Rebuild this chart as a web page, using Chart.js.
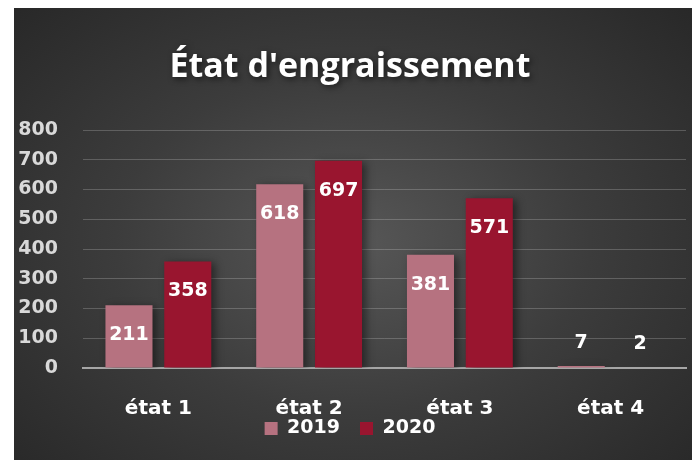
<!DOCTYPE html>
<html>
<head>
<meta charset="utf-8">
<script src="https://cdn.jsdelivr.net/npm/chart.js@4.4.1/dist/chart.umd.min.js"></script>
<style>
  html, body { margin: 0; padding: 0; background: #fff; }
  #panel {
    position: absolute; left: 14px; top: 8px; width: 678px; height: 452px;
    background: radial-gradient(ellipse 70% 75% at 50% 52%, #575757 0%, #3c3c3c 50%, #282828 100%);
  }
</style>
</head>
<body>
<div id="panel"><canvas id="chart" width="678" height="452"></canvas></div>
<script>
// Data
const categories = ['état 1', 'état 2', 'état 3', 'état 4'];
const values2019 = [211, 618, 381, 7];
const values2020 = [358, 697, 571, 2];
const yTicks = [0, 100, 200, 300, 400, 500, 600, 700, 800];
const titleText = "État d'engraissement";

const numFont = 'DejaVu Sans';

// title with soft shadow
const titlePlugin = {
  id: 'titleDraw',
  afterDraw(chart) {
    const c = chart.ctx;
    c.save();
    c.font = 'bold 34px "Open Sans"';
    c.fillStyle = '#ffffff';
    c.textAlign = 'center';
    c.textBaseline = 'middle';
    c.shadowColor = 'rgba(0,0,0,0.6)';
    c.shadowBlur = 6;
    c.shadowOffsetX = 2;
    c.shadowOffsetY = 2;
    c.fillText(titleText, 336, 59);
    c.restore();
  }
};

// legend sits tight under the category labels
const legendShift = {
  id: 'legendShift',
  afterLayout(chart) {
    const lg = chart.legend;
    if (lg) { lg.top -= 22; lg.bottom -= 22; }
  }
};

// bar shadow + value labels
const barLabels = {
  id: 'barLabels',
  beforeDatasetsDraw(chart) {
    const c = chart.ctx;
    c.save();
    c.shadowColor = 'rgba(0,0,0,0.45)';
    c.shadowBlur = 8;
    c.shadowOffsetX = 4;
    c.shadowOffsetY = 2;
  },
  afterDatasetsDraw(chart) {
    const c = chart.ctx;
    c.restore();
    c.save();
    c.font = 'bold 19px "' + numFont + '"';
    c.fillStyle = '#ffffff';
    c.textAlign = 'center';
    c.textBaseline = 'middle';
    chart.data.datasets.forEach((ds, i) => {
      chart.getDatasetMeta(i).data.forEach((bar, j) => {
        const h = bar.base - bar.y;
        const y = h > 40 ? bar.y + 30 : bar.y - 23;
        c.fillText(String(ds.data[j]), bar.x, y);
      });
    });
    c.restore();
  }
};

const ctx = document.getElementById('chart').getContext('2d');
const chart = new Chart(ctx, {
  type: 'bar',
  data: {
    labels: categories,
    datasets: [
      { label: '2019', data: values2019, backgroundColor: '#b67280', categoryPercentage: 0.78, barPercentage: 0.8 },
      { label: '2020', data: values2020, backgroundColor: '#99152f', categoryPercentage: 0.78, barPercentage: 0.8 }
    ]
  },
  options: {
    responsive: false,
    animation: false,
    layout: { padding: { top: 122, right: 6, bottom: 0, left: 0 } },
    plugins: {
      title: { display: false },
      tooltip: { enabled: false },
      legend: {
        position: 'bottom',
        maxHeight: 39,
        labels: {
          boxWidth: 13, boxHeight: 13, padding: 20,
          color: '#ffffff',
          font: { family: numFont, size: 19, weight: 'bold' }
        }
      }
    },
    scales: {
      x: {
        grid: { display: false, drawTicks: false },
        border: { display: true, color: '#a6a6a6', width: 2 },
        ticks: { color: '#ffffff', padding: 29, font: { family: numFont, size: 20, weight: 'bold' } },
        afterFit(scale) { scale.height = 53; }
      },
      y: {
        min: 0, max: 800,
        afterBuildTicks(scale) { scale.ticks = yTicks.map(v => ({ value: v })); },
        grid: { color: 'rgba(255,255,255,0.2)', lineWidth: 1, drawTicks: false },
        border: { display: false },
        ticks: { color: '#d9d9d9', padding: 25, font: { family: numFont, size: 19, weight: 'bold' } },
        afterFit(scale) { scale.width = 69; }
      }
    }
  },
  plugins: [titlePlugin, legendShift, barLabels]
});
</script>
</body>
</html>
